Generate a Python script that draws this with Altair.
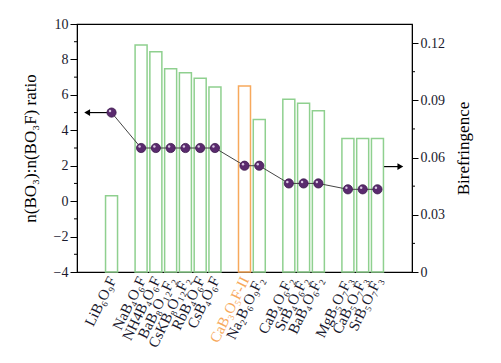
import altair as alt
import pandas as pd

names = ["LiB₆O₉F", "NaB₄O₆F", "NH4B₄O₆F", "BaB₈O₁₂F₂", "CsKB₈O₁₂F₂", "RbB₄O₆F",
         "CsB₄O₆F", "CaB₃O₅F-II", "Na₂B₆O₉F₂", "CaB₄O₆F₂", "SrB₄O₆F₂", "BaB₄O₆F₂",
         "MgB₅O₇F₃", "CaB₅O₇F₃", "SrB₅O₇F₃"]
slots = [2, 4, 5, 6, 7, 8, 9, 11, 12, 14, 15, 16, 18, 19, 20]
ratio = [5, 3, 3, 3, 3, 3, 3, 2, 2, 1, 1, 1, 0.667, 0.667, 0.667]
biref = [0.040, 0.119, 0.1155, 0.1065, 0.1045, 0.1015, 0.097, 0.0975, 0.080,
         0.0905, 0.0885, 0.0845, 0.070, 0.070, 0.070]
highlight = "CaB₃O₅F-II"

left_ticks = [-4, -2, 0, 2, 4, 6, 8, 10]
left_minor = [-3, -1, 1, 3, 5, 7, 9]
right_ticks = [0, 0.03, 0.06, 0.09, 0.12]
right_minor = [0.015, 0.045, 0.075, 0.105]

# arrows (in ratio-axis data units)
arrow_left_x = [0.35, 2]
arrow_left_y = [5, 5]
arrow_right_x = [20.45, 21.55]
arrow_right_y = [1.95, 1.95]

GREEN = "#8fd08f"
ORANGE = "#f7a95c"
PURPLE = "#5a2a6e"
FONT = "Liberation Serif"

df = pd.DataFrame({"name": names, "slot": slots, "ratio": ratio, "biref": biref})
df["col"] = [ORANGE if n == highlight else GREEN for n in names]

label_arr = [""] * 23
for s, n in zip(slots, names):
    label_arr[s] = n
label_js = "[" + ",".join("'" + t + "'" for t in label_arr) + "][datum.value]"

xscale = alt.Scale(domain=[0, 22], nice=False, zero=False)
xaxis = alt.Axis(values=slots, labelExpr=label_js, labelAngle=296, ticks=False,
                 title=None, labelFontSize=15, labelPadding=5, grid=False,
                 labelOverlap=False,
                 labelColor={"condition": {"test": "datum.value == 11", "value": ORANGE},
                             "value": "#1a1a2e"})

yscale = alt.Scale(domain=[-4, 10], nice=False)
yaxis = alt.Axis(orient="left", values=left_ticks, title="n(BO₃):n(BO₃F) ratio",
                 titleFontSize=17, titleFontWeight="normal", labelFontSize=14, grid=False,
                 tickSize=7, titlePadding=14, labelOverlap=False)
rscale = alt.Scale(domain=[0, 0.13], nice=False)
raxis = alt.Axis(orient="right", values=right_ticks,
                 labelExpr="datum.value == 0 ? '0' : format(datum.value, '.2f')",
                 title="Birefringence", titleFontSize=17, titleFontWeight="normal",
                 titleAngle=270, labelFontSize=14, grid=False, tickSize=6,
                 titlePadding=28, labelOverlap=False)


def X(field):
    return alt.X(field, scale=xscale, axis=xaxis)


def Y(field):
    return alt.Y(field, scale=yscale, axis=yaxis)


def R(field):
    return alt.Y(field, scale=rscale, axis=raxis)


bars = alt.Chart(df).mark_bar(size=12, fillOpacity=0, strokeWidth=1.5).encode(
    x=X("slot:Q"),
    y=R("biref:Q"),
    stroke=alt.Stroke("col:N", scale=None),
)
rminor = alt.Chart(pd.DataFrame({"v": right_minor})).mark_rule(
    color="black", strokeWidth=1).encode(
    x=alt.value(335), x2=alt.value(338), y=R("v:Q"))
right_layer = alt.layer(bars, rminor)

line = alt.Chart(df).mark_line(color="#444444", strokeWidth=1).encode(
    x=X("slot:Q"), y=Y("ratio:Q"))
pts = alt.Chart(df).mark_point(filled=True, size=85, color=PURPLE, opacity=1,
                               stroke="#3c1a4c", strokeWidth=0.8).encode(
    x=X("slot:Q"), y=Y("ratio:Q"))
shine = alt.Chart(df).mark_point(filled=True, size=6, color="#e8d8f0", opacity=0.9,
                                 xOffset=-1.5, yOffset=-1.5).encode(
    x=X("slot:Q"), y=Y("ratio:Q"))
lminor = alt.Chart(pd.DataFrame({"v": left_minor})).mark_rule(
    color="black", strokeWidth=1).encode(
    x=alt.value(-3), x2=alt.value(0), y=Y("v:Q"))

al = pd.DataFrame({"x": arrow_left_x, "y": arrow_left_y})
ar = pd.DataFrame({"x": arrow_right_x, "y": arrow_right_y})
al_line = alt.Chart(al).mark_line(color="black", strokeWidth=1.2).encode(
    x=X("x:Q"), y=Y("y:Q"))
ar_line = alt.Chart(ar).mark_line(color="black", strokeWidth=1.2).encode(
    x=X("x:Q"), y=Y("y:Q"))
al_head = alt.Chart(al.head(1)).mark_point(shape="triangle-left", filled=True, size=45,
                                           color="black", opacity=1).encode(
    x=X("x:Q"), y=Y("y:Q"))
ar_head = alt.Chart(ar.tail(1)).mark_point(shape="triangle-right", filled=True, size=45,
                                           color="black", opacity=1).encode(
    x=X("x:Q"), y=Y("y:Q"))

ratio_layer = alt.layer(lminor, line, al_line, ar_line, al_head, ar_head, pts, shine)

chart = alt.layer(right_layer, ratio_layer).resolve_scale(y="independent").properties(
    width=335, height=248,
    autosize=alt.AutoSizeParams(type="none"),
    padding={"left": 69, "top": 16, "right": 75, "bottom": 85},
).configure(font=FONT).configure_view(
    stroke="black", strokeWidth=1.2
).configure_axis(
    domainColor="black", tickColor="black", labelColor="#1a1a2e", titleColor="black",
    labelFont=FONT, titleFont=FONT
)

chart.save("out.html", embed_options={"renderer": "svg", "actions": False})
